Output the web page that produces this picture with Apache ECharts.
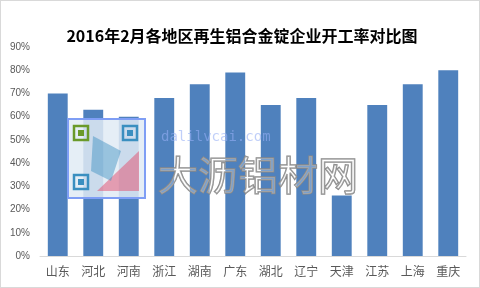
<!DOCTYPE html>
<html><head><meta charset="utf-8">
<script src="https://cdn.jsdelivr.net/npm/echarts@6/dist/echarts.min.js"></script>
<style>html,body{margin:0;padding:0;background:#fff}#c{width:480px;height:288px;box-sizing:border-box;border:1px solid #d9d9d9}</style>
</head><body><div id="c"></div>
<script>
const title = '2016年2月各地区再生铝合金锭企业开工率对比图';
const categories = ['山东','河北','河南','浙江','湖南','广东','湖北','辽宁','天津','江苏','上海','重庆'];
const values = [70, 63, 60, 68, 74, 79, 65, 68, 26, 65, 74, 80];
const yTicks = [0, 10, 20, 30, 40, 50, 60, 70, 80, 90];

const chart = echarts.init(document.getElementById('c'));
function finder(x, y, color) {
  return [
    { type: 'rect', z: 101, shape: { x: x, y: y, width: 14, height: 14 }, style: { fill: 'none', stroke: color, lineWidth: 2.5 } },
    { type: 'rect', z: 101, shape: { x: x + 4, y: y + 4, width: 6, height: 6 }, style: { fill: color } }
  ];
}
chart.setOption({
  animation: false,
  title: { text: title, left: 236, textAlign: 'center', top: 22,
    textStyle: { fontFamily: '"Noto Sans CJK SC"', fontWeight: 'bold', fontSize: 16, color: '#000' } },
  grid: { left: 39, right: 13, top: 46, bottom: 31 },
  xAxis: { type: 'category', data: categories,
    axisLine: { lineStyle: { color: '#d9d9d9' } }, axisTick: { show: false },
    axisLabel: { color: '#595959', fontSize: 12, margin: 9, fontFamily: '"Noto Sans CJK SC"' } },
  yAxis: { type: 'value', min: yTicks[0], max: yTicks[yTicks.length-1], interval: 10,
    splitLine: { show: false }, axisLine: { show: false }, axisTick: { show: false },
    axisLabel: { color: '#595959', fontSize: 10, margin: 10, formatter: v => v + '%', fontFamily: 'Liberation Sans' } },
  series: [{ type: 'bar', data: values, barCategoryGap: '44%', itemStyle: { color: '#4f81bd' } }],
  graphic: [
    { type: 'rect', shape: { x: 67, y: 118, width: 77, height: 79 }, z: 100,
      style: { fill: 'rgba(225,235,245,0.85)', stroke: '#7f9ef5', lineWidth: 2 } },
    ...finder(73, 125, '#6a9a2a'),
    ...finder(122, 125, '#3a8fc0'),
    ...finder(73, 174, '#3a8fc0'),
    { type: 'polygon', z: 101, shape: { points: [[138, 150], [138, 190], [96, 190]] }, style: { fill: 'rgba(225,90,120,0.55)' } },
    { type: 'polygon', z: 101, shape: { points: [[92, 135], [120, 150], [110, 180], [90, 170]] }, style: { fill: 'rgba(58,143,192,0.45)' } },
    { type: 'text', x: 160, y: 136, z: 100, style: { text: 'dalilvcai.com', fill: 'rgba(150,175,245,0.6)',
      font: '14px "DejaVu Sans Mono"', textVerticalAlign: 'middle' } },
    { type: 'text', x: 157, y: 174, z: 100, style: { text: '大沥铝材网', fill: 'rgba(255,255,255,0.25)',
      stroke: '#8a8a8a', lineWidth: 1.5, font: '40px "Noto Sans CJK SC"', textVerticalAlign: 'middle' } }
  ]
});
</script></body></html>
